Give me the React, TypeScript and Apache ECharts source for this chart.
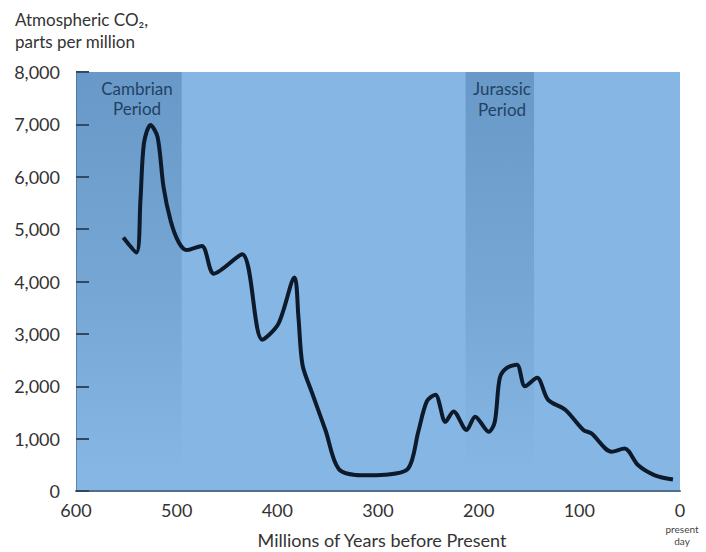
import React, { useEffect, useRef } from "react";
import * as echarts from "echarts";

const years = [553, 540, 536, 532.5, 526, 519, 513, 506, 498, 490, 475, 463, 435, 415, 399, 383, 379, 375, 366, 352, 339, 316, 293, 270, 260, 251.5, 243, 233, 225, 212, 203.5, 190, 184, 179, 172, 162, 154, 142, 131, 114, 96, 88, 68, 55, 41.5, 25, 7];
const co2 = [4840, 4555, 5550, 6640, 6990, 6760, 5800, 5160, 4750, 4600, 4680, 4150, 4520, 2890, 3190, 4075, 3310, 2410, 1900, 1150, 420, 300, 310, 430, 1130, 1710, 1840, 1320, 1520, 1165, 1420, 1130, 1320, 2160, 2350, 2410, 2000, 2160, 1740, 1550, 1165, 1100, 750, 810, 490, 300, 220];
const xTicks = [600, 500, 400, 300, 200, 100, 0];
const yTicks = [0, 1000, 2000, 3000, 4000, 5000, 6000, 7000, 8000];
const periods = [
  { name: "Cambrian", from: 600, to: 495 },
  { name: "Jurassic", from: 213, to: 145 },
];

const FONT = "Lato, 'Open Sans', sans-serif";

export default function App() {
  const ref = useRef<HTMLDivElement>(null);
  useEffect(() => {
    if (!ref.current) return;
    const chart = echarts.init(ref.current, undefined, { renderer: "svg" });
    const grad = () =>
      new echarts.graphic.LinearGradient(0, 0, 0, 1, [
        { offset: 0, color: "rgba(40,90,140,0.32)" },
        { offset: 0.55, color: "rgba(40,90,140,0.16)" },
        { offset: 0.95, color: "rgba(40,90,140,0.0)" },
        { offset: 1, color: "rgba(40,90,140,0)" },
      ]);
    chart.setOption({
      animation: false,
      textStyle: { fontFamily: FONT },
      grid: {
        left: 76,
        right: 26,
        top: 72,
        bottom: 61,
        show: true,
        backgroundColor: "#86b6e3",
        borderWidth: 0,
      },
      xAxis: {
        type: "value",
        min: 0,
        max: 600,
        interval: 100,
        inverse: true,
        splitLine: { show: false },
        axisTick: { show: false },
        axisLine: { show: true, onZero: false, lineStyle: { color: "#4f6e8c", width: 2 } },
        axisLabel: {
          color: "#333",
          fontSize: 18,
          margin: 10,
          fontFamily: FONT,
          formatter: (v: number) => (xTicks.includes(v) ? String(v) : ""),
        },
      },
      yAxis: {
        type: "value",
        min: 0,
        max: 8000,
        interval: 1000,
        position: "left",
        splitLine: { show: false },
        axisLine: { show: true, onZero: false, lineStyle: { color: "#5d87b0", width: 1 } },
        axisTick: { show: true, inside: true, length: 13, lineStyle: { color: "#34465a", width: 2 } },
        axisLabel: {
          color: "#333",
          fontSize: 18,
          margin: 16,
          fontFamily: FONT,
          formatter: (v: number) => (yTicks.includes(v) ? v.toLocaleString("en-US") : ""),
        },
      },
      series: [
        {
          type: "line",
          data: years.map((y, i) => [y, co2[i]]),
          smooth: 0.3,
          showSymbol: false,
          lineStyle: { color: "#0c1a2b", width: 4 },
          z: 5,
          markArea: {
            silent: true,
            itemStyle: { color: grad() },
            data: periods.map((p) => [{ xAxis: p.from }, { xAxis: p.to }]),
          },
        },
      ],
      graphic: [
        {
          type: "text",
          left: 15,
          top: 8,
          style: {
            text: "Atmospheric CO₂,\nparts per million",
            font: `17px ${FONT}`,
            fill: "#333",
            lineHeight: 22,
          },
        },
        {
          type: "text",
          x: 137,
          y: 78,
          style: {
            text: "Cambrian\nPeriod",
            font: `17px ${FONT}`,
            fill: "#1d3654",
            align: "center",
            lineHeight: 20,
          },
        },
        {
          type: "text",
          x: 502,
          y: 78,
          style: {
            text: "Jurassic\nPeriod",
            font: `17px ${FONT}`,
            fill: "#1d3654",
            align: "center",
            lineHeight: 21,
          },
        },
        {
          type: "text",
          x: 382,
          y: 531,
          style: {
            text: "Millions of Years before Present",
            font: `18px ${FONT}`,
            fill: "#333",
            align: "center",
          },
        },
        {
          type: "text",
          x: 682,
          y: 523,
          style: {
            text: "present\nday",
            font: `10px ${FONT}`,
            fill: "#444",
            align: "center",
            lineHeight: 12,
          },
        },
      ],
    });
    return () => chart.dispose();
  }, []);
  return <div ref={ref} style={{ width: 706, height: 552, position: "absolute", left: 0, top: 0 }} />;
}
